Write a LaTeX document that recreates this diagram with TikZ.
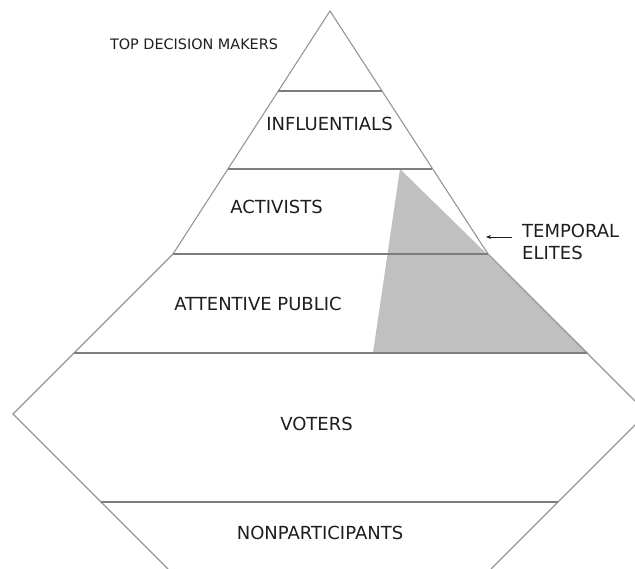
\documentclass[tikz,border=0pt]{standalone}
\usepackage{fontspec}
\setmainfont{DejaVu Sans}
\usetikzlibrary{arrows.meta}
\definecolor{edgegray}{RGB}{150,150,150}
\definecolor{bandgray}{RGB}{125,125,125}
\definecolor{elitefill}{RGB}{192,192,192}
\definecolor{ink}{RGB}{30,30,30}
\tikzset{
  outline/.style={draw=edgegray, line width=1.1pt, line join=miter},
  band/.style={draw=bandgray, line width=1.2pt},
  lbl/.style={inner sep=0pt, anchor=base, text=ink, font=\fontsize{18}{22}\selectfont},
  smalllbl/.style={inner sep=0pt, anchor=base, text=ink, font=\fontsize{14.4}{17}\selectfont},
  sidelbl/.style={inner sep=0pt, anchor=base west, text=ink, font=\fontsize{18}{22}\selectfont},
  pointer/.style={draw=ink, line width=0.8pt, -{Stealth[length=5pt,width=4pt]}}
}
\begin{document}
\begin{tikzpicture}[x=1pt,y=-1pt]
\useasboundingbox (0,0) rectangle (635,569);
\fill[white] (0,0) rectangle (635,569);
\clip (0,0) rectangle (635,569);
% shaded temporal elites region
\fill[elitefill] (400,169) -- (588,353) -- (373,353) -- cycle;
% outline of pyramid / hexagon
\draw[outline] (168,569) -- (13,414) -- (173,254) -- (330,11) -- (488,254) -- (647,413) -- (491,569);
% band separators
\draw[band] (278,91) -- (382,91);
\draw[band] (228,169) -- (432,169);
\draw[band] (173,254) -- (488,254);
\draw[band] (74,353) -- (587,353);
\draw[band] (101,502) -- (558,502);
% labels
\node[smalllbl] (top) at (194,50) {TOP DECISION MAKERS};
\node[lbl] (infl) at (329.5,131) {INFLUENTIALS};
\node[lbl] (act) at (276.5,214) {ACTIVISTS};
\node[lbl] (att) at (258,311) {ATTENTIVE PUBLIC};
\node[lbl] (vot) at (316.5,431) {VOTERS};
\node[lbl] (non) at (320,539) {NONPARTICIPANTS};
\node[sidelbl] (tempA) at (522,238) {TEMPORAL};
\node[sidelbl] (tempB) at (522,260) {ELITES};
% pointer
\coordinate (arrowstart) at (512,237);
\coordinate (arrowtip) at (486,237);
\draw[pointer] (arrowstart) -- (arrowtip);
\end{tikzpicture}
\end{document}
